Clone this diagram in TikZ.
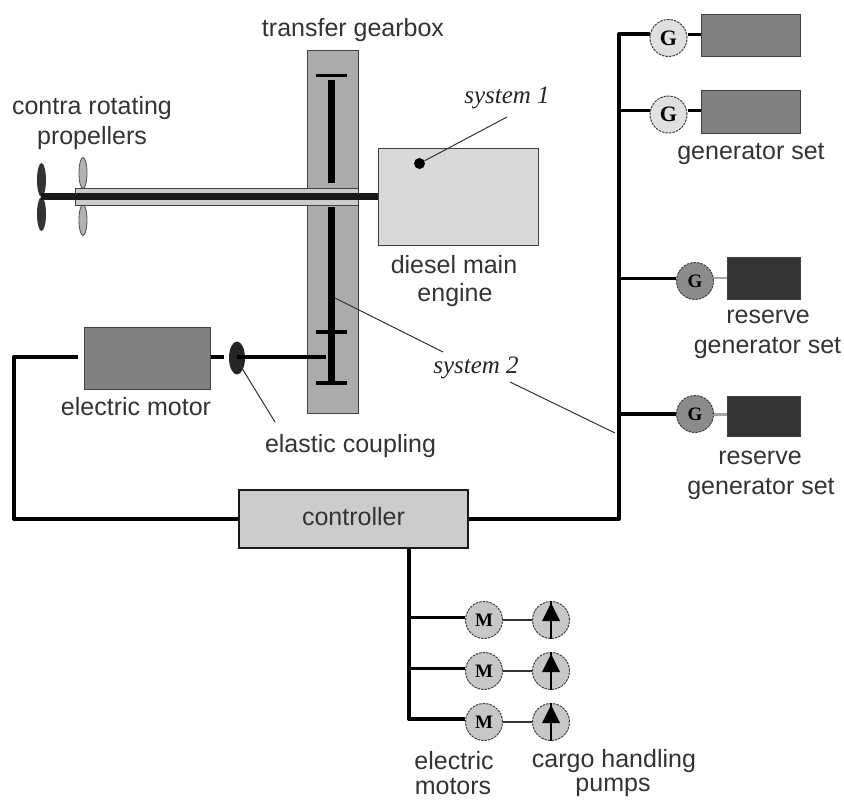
\documentclass[tikz,border=0pt]{standalone}
\usepackage{fontspec}
\usetikzlibrary{shapes.geometric}
\setmainfont{Liberation Sans}
\newfontfamily\serifit{Liberation Serif}
\begin{document}
\begin{tikzpicture}[x=1pt,y=-1pt,
  lab/.style={text=black!80,font=\fontsize{25}{25}\selectfont,inner sep=0pt,anchor=center},
  note/.style={text=black!85,font=\serifit\itshape\fontsize{25}{25}\selectfont,inner sep=0pt,anchor=center},
  boxs/.style={draw=black!75,line width=1.1pt,minimum width=0pt,minimum height=0pt,inner sep=0pt,anchor=north west},
  mach/.style={circle,draw=black!75,dashed,dash pattern=on 2.5pt off 1pt,line width=1pt,minimum size=37pt,inner sep=0pt,font=\serifit\bfseries\fontsize{19}{19}\selectfont},
  wire/.style={line width=4pt,black},
  wirem/.style={line width=3pt,black},
  wirethin/.style={line width=1.3pt,black!80},
  lead/.style={line width=1pt,black!80},
  gear/.style={line width=7.5pt,black},
  tbar/.style={line width=3pt,black}]
\useasboundingbox (0,0) rectangle (844,801);
% gearbox
\node[boxs,fill=black!33,minimum width=51pt,minimum height=363pt] (gb) at (307,50) {};
\coordinate (ga1) at (316,75); \coordinate (ga2) at (347,75);
\draw[tbar] (ga1) -- (ga2);
\coordinate (gb1) at (331.3,80); \coordinate (gb2) at (331.3,183);
\draw[gear] (gb1) -- (gb2);
\coordinate (gc1) at (331.3,207); \coordinate (gc2) at (331.3,383);
\draw[gear] (gc1) -- (gc2);
\coordinate (gd1) at (316,332); \coordinate (gd2) at (347,332);
\draw[line width=4pt] (gd1) -- (gd2);
\coordinate (ge1) at (316,383); \coordinate (ge2) at (347,383);
\draw[line width=4.5pt] (ge1) -- (ge2);
% engine
\node[boxs,fill=black!15,minimum width=160pt,minimum height=97pt] (eng) at (378,148) {};
% propellers
\node[ellipse,fill=black!30,draw=black!70,line width=.8pt,minimum width=8pt,minimum height=31pt,inner sep=0pt] (pa) at (83,173) {};
\node[ellipse,fill=black!30,draw=black!70,line width=.8pt,minimum width=8pt,minimum height=31pt,inner sep=0pt] (pb) at (83,220) {};
\node[ellipse,fill=black!80,minimum width=9pt,minimum height=34pt,inner sep=0pt] (pc) at (41.5,180) {};
\node[ellipse,fill=black!80,minimum width=9pt,minimum height=34pt,inner sep=0pt] (pd) at (41.5,214) {};
% shaft
\node[boxs,fill=black!20,minimum width=283pt,minimum height=17pt] (sleeve) at (75,188) {};
\coordinate (sh) at (41,196.5);
\draw[line width=7pt,black!90] (sh) -- (eng.west |- sh);
% electric motor
\node[boxs,fill=black!50,minimum width=126pt,minimum height=62pt] (em) at (84,327) {};
\node[ellipse,fill=black!85,minimum width=16pt,minimum height=33pt,inner sep=0pt] (cp) at (237,358) {};
\coordinate (wl) at (78,357);
\coordinate (gs) at (326,357);
\coordinate (st) at (224,357);
\coordinate (cpe) at (237,357);
\draw[line width=3.6pt] (em.east |- st) -- (st);
\draw[line width=3.6pt] (cpe) -- (gs);
% controller
\node[boxs,fill=black!20,draw=black!90,line width=2pt,minimum width=229pt,minimum height=58pt] (ctl) at (238,489) {};
\node[lab] (ctlt) at (353.5,517) {controller};
\coordinate (bt) at (650,34); \coordinate (bc) at (619,519);
\draw[wire,line join=round] (ctl.west |- bc) -- (14,519) -- (14,357) -- (wl);
\draw[wire,line join=round] (ctl.east |- bc) -- (bc) -- (619,34) -- (bt);
% generators
\node[mach,fill=black!12,font=\serifit\bfseries\fontsize{22}{22}\selectfont] (g1) at (668.5,38) {G};
\node[mach,fill=black!12,font=\serifit\bfseries\fontsize{22}{22}\selectfont] (g2) at (668.5,114.5) {G};
\node[mach,fill=black!45] (g3) at (695,281) {G};
\node[mach,fill=black!45] (g4) at (695,414) {G};
\node[boxs,fill=black!50,minimum width=99pt,minimum height=42pt] (r1) at (701,14) {};
\node[boxs,fill=black!50,minimum width=99pt,minimum height=43pt] (r2) at (701,90) {};
\node[boxs,fill=black!80,minimum width=73pt,minimum height=42pt] (r3) at (727,257) {};
\node[boxs,fill=black!80,minimum width=73pt,minimum height=40pt] (r4) at (727,396) {};
\coordinate (j2) at (619,110); \coordinate (j3) at (619,278); \coordinate (j4) at (619,414);
\draw[wirem] (j2) -- (g2.west |- j2);
\draw[wirem] (j3) -- (g3.west |- j3);
\draw[wire] (j4) -- (g4.west |- j4);
\coordinate (s1) at (690,34); \coordinate (s2) at (690,110);
\draw[wirem] (g1.east |- s1) -- (r1.west |- s1);
\draw[wirem] (g2.east |- s2) -- (r2.west |- s2);
\coordinate (s3) at (720,278); \coordinate (s4) at (720,414);
\draw[line width=2.6pt,black!35] (g3.east |- s3) -- (r3.west |- s3);
\draw[line width=3pt,black!35] (g4.east |- s4) -- (r4.west |- s4);
% motors and pumps
\node[mach,fill=black!22] (m1) at (484,620) {M};
\node[mach,fill=black!22] (m2) at (484,671) {M};
\node[mach,fill=black!22] (m3) at (484,722) {M};
\node[mach,fill=black!22] (p1) at (551,620) {};
\node[mach,fill=black!22] (p2) at (551,671) {};
\node[mach,fill=black!22] (p3) at (551,722) {};
\foreach \n in {1,2,3}{
  \fill[black] (p\n.north) ++(0,2) -- ++(9,18) -- ++(-18,0) -- cycle;
  \draw[line width=1.2pt] (p\n.north) -- (p\n.south);
  \draw[wirethin] (m\n.east) -- (p\n.west);
}
\coordinate (dn) at (409,719);
\draw[wire,line join=round] (ctl.south -| dn) -- (dn) -- (m3.west |- dn);
\coordinate (b1) at (409,617); \coordinate (b2) at (409,668);
\draw[wirem] (b1) -- (m1.west |- b1);
\draw[wirem] (b2) -- (m2.west |- b2);
% labels
\node[lab] (t1) at (353,30) {transfer gearbox};
\node[lab] (t2) at (92,108) {contra rotating};
\node[lab] (t3) at (92,138) {propellers};
\node[note] (sy1) at (507,98) {system 1};
\node[note] (sy2) at (476,368) {system 2};
\node[lab] (t4) at (751,154) {generator set};
\node[lab] (t5) at (454,265) {diesel main};
\node[lab] (t6) at (455,295) {engine};
\node[lab] (t7) at (768,317) {reserve};
\node[lab] (t8) at (767.5,348) {generator set};
\node[lab] (t9) at (136,407) {electric motor};
\node[lab] (t10) at (350.5,446) {elastic coupling};
\node[lab] (t11) at (760,458) {reserve};
\node[lab] (t12) at (761,489) {generator set};
\node[lab] (t13) at (454,761) {electric};
\node[lab] (t14) at (453,787) {motors};
\node[lab] (t15) at (614,761) {cargo handling};
\node[lab] (t16) at (613,787) {pumps};
% leader lines
\node[circle,fill=black,minimum size=11pt,inner sep=0pt] (dot) at (419.5,163.5) {};
\coordinate (l1) at (507,117);
\draw[lead] (dot) -- (l1);
\coordinate (l2) at (335,298); \coordinate (l3) at (443,352);
\draw[lead] (l2) -- (l3);
\coordinate (l4) at (510,382); \coordinate (l5) at (615,433);
\draw[lead] (l4) -- (l5);
\coordinate (l6) at (240,365); \coordinate (l7) at (275,422);
\draw[lead] (l6) -- (l7);
\end{tikzpicture}
\end{document}
